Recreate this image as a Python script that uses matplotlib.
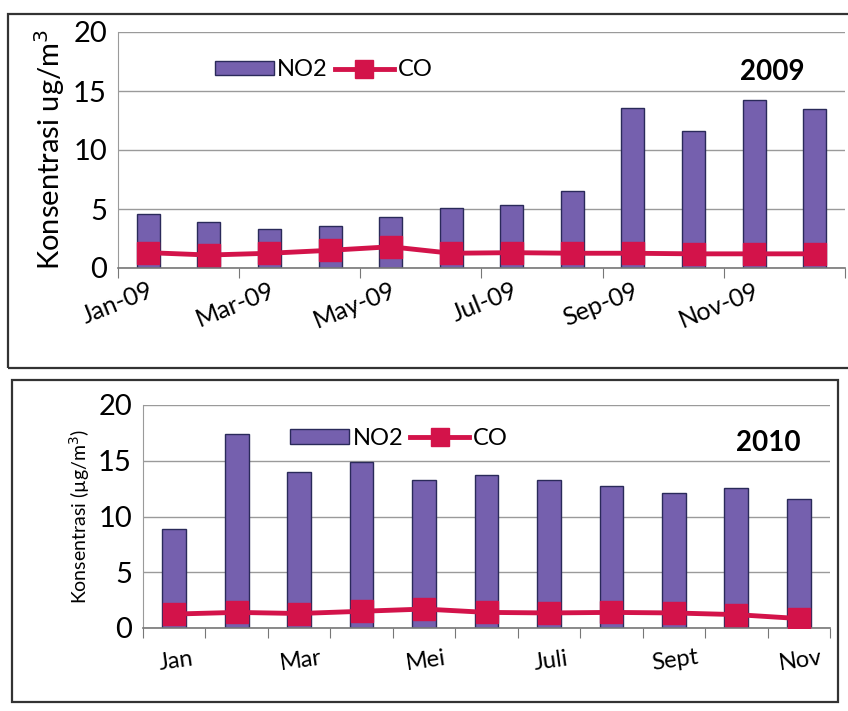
import matplotlib
matplotlib.use("Agg")
import matplotlib.pyplot as plt
from matplotlib.patches import Rectangle
import numpy as np

plt.rcParams['font.family'] = ['Lato', 'DejaVu Sans']

# 2009 monthly concentrations
months_2009 = ["Jan-09", "Feb-09", "Mar-09", "Apr-09", "May-09", "Jun-09",
               "Jul-09", "Aug-09", "Sep-09", "Oct-09", "Nov-09", "Dec-09"]
no2_2009 = [4.6, 3.9, 3.3, 3.6, 4.3, 5.1, 5.3, 6.5, 13.6, 11.6, 14.2, 13.5]
co_2009 = [1.3, 1.1, 1.25, 1.5, 1.8, 1.25, 1.3, 1.25, 1.25, 1.2, 1.2, 1.2]

# 2010 monthly concentrations
months_2010 = ["Jan", "Feb", "Mar", "Apr", "Mei", "Jun", "Juli", "Agu",
               "Sept", "Okt", "Nov"]
no2_2010 = [8.9, 17.4, 14.0, 14.9, 13.3, 13.7, 13.3, 12.7, 12.1, 12.6, 11.6]
co_2010 = [1.25, 1.4, 1.3, 1.5, 1.7, 1.4, 1.35, 1.4, 1.35, 1.2, 0.85]

yticks = [0, 5, 10, 15, 20]

BAR = "#7560ae"
EDGE = "#2a2a5a"
RED = "#d3134a"
GRID = "#9a9a9a"

fig = plt.figure(figsize=(8.48, 7.11), dpi=100)
fig.patch.set_facecolor("white")

# panel frames
fig.add_artist(Rectangle((8 / 848, 1 - 368 / 711), 845 / 848, (368 - 14) / 711,
                         transform=fig.transFigure, fill=False,
                         edgecolor="#333333", lw=1.6))
fig.add_artist(Rectangle((12 / 848, 1 - 702 / 711), (838 - 12) / 848, (702 - 380) / 711,
                         transform=fig.transFigure, fill=False,
                         edgecolor="#333333", lw=1.6))


def draw_panel(ax, labels, no2, co, year, ylabel, ylabel_size, tick_pos,
               rot, label_y, label_size, legend_xy, year_xy):
    x = np.arange(len(labels))
    bars = ax.bar(x, no2, width=0.38, color=BAR, edgecolor=EDGE, linewidth=1.0,
                  label="NO2", zorder=2)
    line, = ax.plot(x, co, color=RED, lw=3.5, marker="s", markersize=16,
                    markeredgecolor=RED, label="CO", zorder=3)
    ax.set_xlim(-0.5, len(labels) - 0.5)
    ax.set_ylim(0, 20)
    ax.set_yticks(yticks)
    ax.tick_params(axis="y", labelsize=21, length=0, pad=8)
    ax.yaxis.grid(True, color=GRID, lw=1.0, zorder=0)
    ax.set_axisbelow(True)
    for s in ("top", "right"):
        ax.spines[s].set_visible(False)
    ax.spines["left"].set_color(GRID)
    ax.spines["bottom"].set_color("#777777")
    ax.spines["bottom"].set_linewidth(1.2)

    # category-boundary ticks, labels on every second month
    ax.set_xticks(tick_pos)
    ax.set_xticklabels([])
    ax.tick_params(axis="x", length=7, color="#777777")
    for i in range(0, len(labels), 2):
        ax.text(i, label_y, labels[i], rotation=rot, rotation_mode="anchor",
                ha="right" if rot > 15 else "center", va="top",
                fontsize=label_size, clip_on=False)

    ax.set_ylabel(ylabel, fontsize=ylabel_size, labelpad=4)
    ax.legend(handles=[bars, line], labels=["NO2", "CO"],
              loc="center left", bbox_to_anchor=legend_xy, ncol=2,
              frameon=False, fontsize=17, handlelength=2.5,
              handleheight=0.55, columnspacing=0.3, handletextpad=0.15,
              markerscale=0.8, borderaxespad=0)
    ax.text(year_xy[0], year_xy[1], year, transform=ax.transAxes,
            fontsize=20, fontweight="bold", ha="center", va="center")


ax1 = fig.add_axes([118 / 848, 1 - 268 / 711, 727 / 848, 236 / 711])
draw_panel(ax1, months_2009, no2_2009, co_2009, "2009",
           "Konsentrasi ug/m$^3$", 21,
           np.arange(-0.5, 12, 2), 22, -0.9, 18, (0.12, 0.84), (0.90, 0.83))

ax2 = fig.add_axes([143 / 848, 1 - 628 / 711, 687 / 848, 223 / 711])
draw_panel(ax2, months_2010, no2_2010, co_2010, "2010",
           "Konsentrasi (µg/m$^3$)", 14,
           np.arange(-0.5, 11, 1), 8, -2.0, 17, (0.20, 0.85), (0.91, 0.83))

fig.savefig("out.png", dpi=100, facecolor=fig.get_facecolor())
